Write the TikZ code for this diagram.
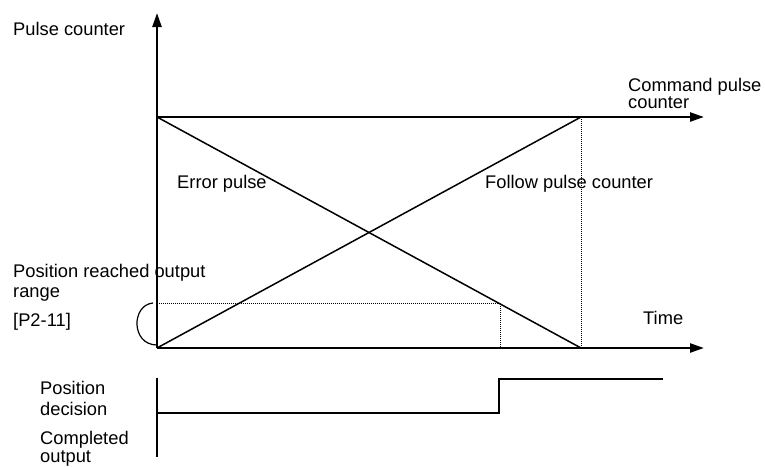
\documentclass[tikz,border=0pt]{standalone}
\usepackage{fontspec}
\setmainfont{Liberation Sans}
\usepackage{tikz}
\usetikzlibrary{arrows.meta}

\begin{document}
\begin{tikzpicture}[x=1pt, y=-1pt,
  lbl/.style={font=\fontsize{18.3}{#1}\selectfont, inner sep=0pt,
              align=left, anchor=base west},
  lbl/.default=19.5,
  axis/.style={-{Triangle[length=14pt,width=9pt]}, line width=2.4pt},
  ramp/.style={line width=1.5pt},
  guide/.style={densely dotted, line width=1pt},
  sig/.style={line width=1.5pt}
]
\useasboundingbox (0,0) rectangle (765,466);

% axes
\coordinate (O) at (157,348);
\coordinate (ytop) at (157,13);
\coordinate (tend) at (704,348);
\coordinate (cmd0) at (157,117);
\coordinate (cmdend) at (704,117);
\coordinate (cross) at (581,117);
\coordinate (tzero) at (581,348);
\coordinate (lvl) at (157,303);
\coordinate (reach) at (500,303);
\coordinate (reachT) at (500,348);

\draw[axis] (O) -- (ytop);
\draw[axis] (O) -- (tend);
\draw[axis] (cmd0) -- (cmdend);
\draw[ramp] (cmd0) -- (tzero);
\draw[ramp] (O) -- (cross);
\draw[guide] (cross) -- (tzero);
\draw[guide] (lvl) -- (reach) -- (reachT);
% range bracket
\draw[line width=1.2pt] (153,303) .. controls (131,305) and (131,345) .. (157,345);

% output signal
\coordinate (s0) at (157,378);
\coordinate (s1) at (157,457);
\coordinate (lo0) at (157,413);
\coordinate (lo1) at (499,413);
\coordinate (hi0) at (499,379);
\coordinate (hi1) at (663,379);
\draw[sig] (s0) -- (s1);
\draw[sig] (lo0) -- (lo1) -- (hi0) -- (hi1);

% labels (multi-line ones sit on their last baseline)
\node[lbl] (pc) at (13,35) {Pulse counter};
\node[lbl=17] (cpc) at (628,108) {Command pulse\\counter};
\node[lbl] (ep) at (177,188) {Error pulse};
\node[lbl] (fpc) at (485,188) {Follow pulse counter};
\node[lbl=20] (rng) at (13,297) {Position reached output\\range};
\node[lbl] (par) at (13,326) {[P2-11]};
\node[lbl] (tm) at (643,324) {Time};
\node[lbl=21] (pd) at (40,415) {Position\\decision};
\node[lbl=18] (co) at (40,462) {Completed\\output};
\end{tikzpicture}
\end{document}
